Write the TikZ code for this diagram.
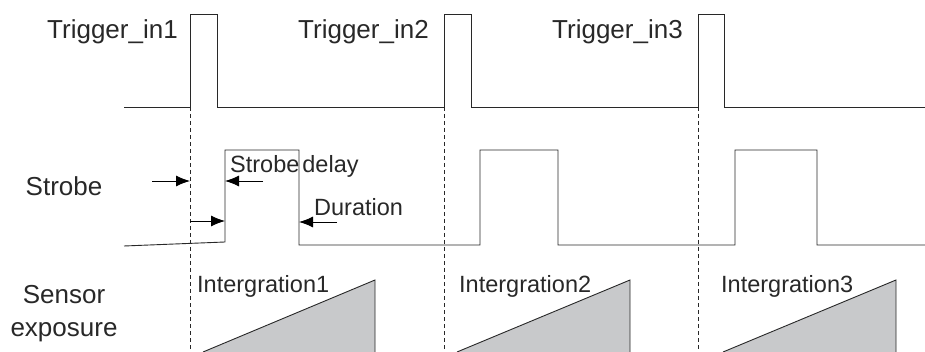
\documentclass[tikz,border=0pt]{standalone}
\usepackage{fontspec}
\setmainfont{Liberation Sans}
\usetikzlibrary{arrows.meta}
\definecolor{sig}{RGB}{40,40,40}
\definecolor{expo}{RGB}{200,201,203}

\begin{document}
\begin{tikzpicture}[x=1pt, y=-1pt,
    wave/.style  = {draw=sig, line width=0.9pt},
    guide/.style = {draw=sig, line width=0.7pt, dash pattern=on 4pt off 3pt},
    lbl/.style   = {font=\fontsize{26}{30}\selectfont, inner sep=0pt, text=sig},
    tag/.style   = {font=\fontsize{23.5}{28}\selectfont, inner sep=0pt,
                    anchor=base west, text=sig},
    arr/.style   = {-{Latex[length=14pt,width=11pt]}, line width=0.9pt, draw=black},
  ]
    \useasboundingbox (0,0) rectangle (925,352);

    % trigger pulses
    \draw[wave] (124,107) -- (190,107) -- (190,14) -- (217,14) -- (217,107)
                -- (444,107) -- (444,14) -- (471,14) -- (471,107)
                -- (698,107) -- (698,14) -- (724,14) -- (724,107) -- (925,107);

    % strobe pulses
    \draw[wave] (124,246) -- (225,242) -- (225,150) -- (299,150) -- (299,245)
                -- (480,245) -- (480,150) -- (558,150) -- (558,245)
                -- (735,245) -- (735,150) -- (817,150) -- (817,245) -- (925,245);

    % trigger instants
    \foreach \x in {190,444,698}
      \draw[guide] (\x,107) -- (\x,352);

    % exposure ramps
    \foreach \a/\b in {203/375, 457/630, 723/896} {
      \fill[expo] (\a,352) -- (\b,280) -- (\b,352) -- cycle;
      \draw[wave] (\a,352) -- (\b,280) -- (\b,352);
    }

    % labels
    \node[lbl, anchor=base west] (trig1) at (47,39)  {Trigger\_in1};
    \node[lbl, anchor=base west] (trig2) at (298,39) {Trigger\_in2};
    \node[lbl, anchor=base west] (trig3) at (552,39) {Trigger\_in3};

    \node[lbl, anchor=base] (strobe) at (64,196) {Strobe};
    \node[lbl, anchor=base] (sensor) at (64,303) {Sensor};
    \node[lbl, anchor=base] (expos)  at (64,336) {exposure};

    \node[tag] (sdelay) at (230,173) {Strobe\hspace{3pt}delay};
    \node[tag] (dur)    at (314,216) {Duration};

    \node[tag] (int1) at (197,292) {Intergration1};
    \node[tag] (int2) at (459,292) {Intergration2};
    \node[tag] (int3) at (721,292) {Intergration3};

    % delay and duration marks
    \coordinate (d0) at (152,181);
    \coordinate (d1) at (190,181);
    \coordinate (d2) at (263,181);
    \coordinate (d3) at (225,181);
    \coordinate (e0) at (190,221);
    \coordinate (e1) at (225,221);
    \coordinate (w0) at (337,222);
    \coordinate (w1) at (299,222);

    \draw[arr] (d0) -- (d1);
    \draw[arr] (d2) -- (d3);
    \draw[arr] (e0) -- (e1);
    \draw[arr] (w0) -- (w1);
  \end{tikzpicture}
\end{document}
